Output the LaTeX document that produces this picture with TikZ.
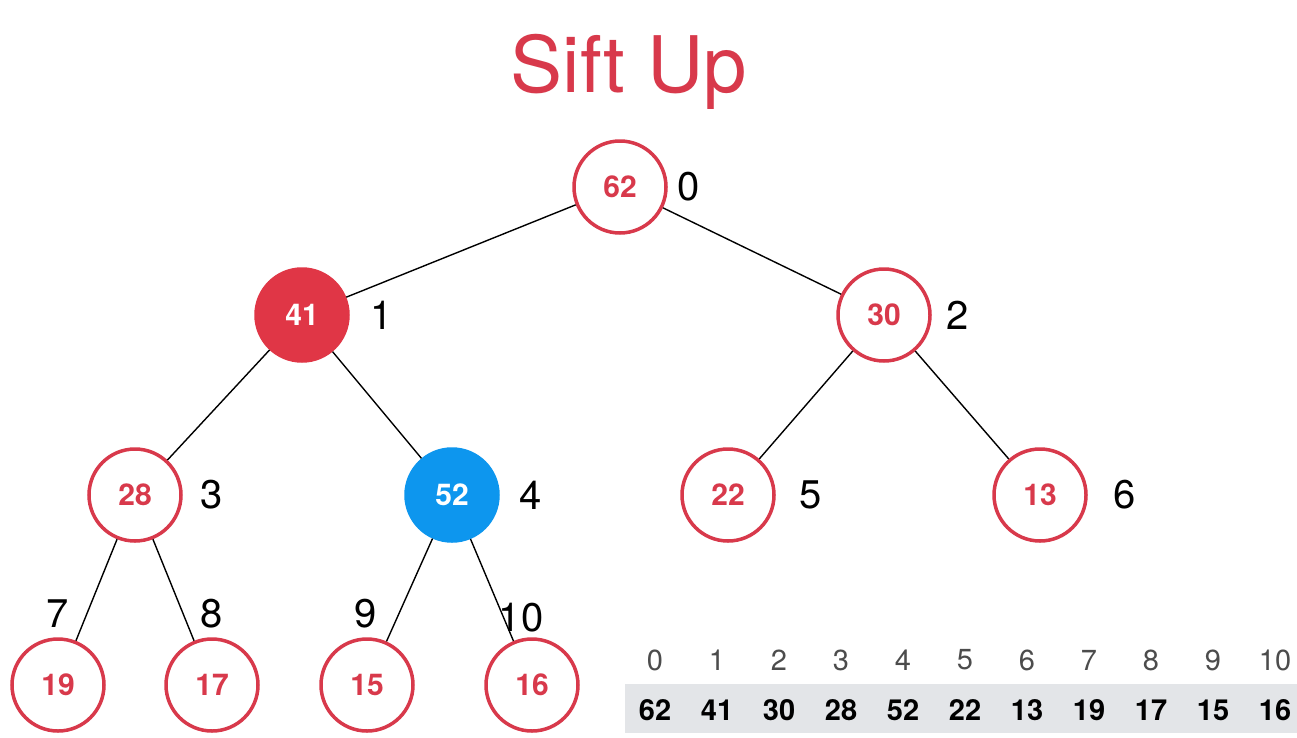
\documentclass[tikz,border=0pt]{standalone}
\usepackage{fontspec}
\setmainfont{TeX Gyre Heros}
\usepackage{xcolor}
\usetikzlibrary{positioning}

\definecolor{heapred}{HTML}{D8394B}
\definecolor{fillred}{HTML}{E03646}
\definecolor{heapblue}{HTML}{0D96EE}
\definecolor{rowgray}{HTML}{E3E5E8}

\tikzset{
  heapnode/.style={circle, draw=heapred, line width=3.5pt, fill=white,
    minimum size=92pt, inner sep=0pt, text=heapred,
    font=\fontsize{30}{31}\selectfont\bfseries},
  hotnode/.style={heapnode, fill=fillred, draw=fillred, text=white},
  movenode/.style={heapnode, fill=heapblue, draw=heapblue, text=white},
  idx/.style={font=\fontsize{40}{42}\selectfont},
  arrayidx/.style={font=\fontsize{29}{30}\selectfont, text=black!70},
  arrayval/.style={font=\fontsize{29}{30}\selectfont\bfseries}
}

\begin{document}
\begin{tikzpicture}[x=1pt, y=-1pt, line width=1.4pt]
            \useasboundingbox[fill=white] (0,0) rectangle (1297,737);
            \node[text=heapred, font=\fontsize{78}{82}\selectfont] (title) at (629,72) {Sift Up};
            % tree
            \node[heapnode] (n0) at (620,187) {62};
            \node[hotnode] (n1) at (302,315) {41};
            \node[heapnode] (n2) at (884,315) {30};
            \node[heapnode] (n3) at (135,495) {28};
            \node[movenode] (n4) at (452,495) {52};
            \node[heapnode] (n5) at (728,495) {22};
            \node[heapnode] (n6) at (1040,495) {13};
            \node[heapnode] (n7) at (58,685) {19};
            \node[heapnode] (n8) at (212,685) {17};
            \node[heapnode] (n9) at (367,685) {15};
            \node[heapnode] (n10) at (532,685) {16};
            \draw (n0) -- (n1);
            \draw (n0) -- (n2);
            \draw (n1) -- (n3);
            \draw (n1) -- (n4);
            \draw (n2) -- (n5);
            \draw (n2) -- (n6);
            \draw (n3) -- (n7);
            \draw (n3) -- (n8);
            \draw (n4) -- (n9);
            \draw (n4) -- (n10);
            % indices
            \node[idx] (i0) at (689,187) {0};
            \node[idx] (i1) at (382,315) {1};
            \node[idx] (i2) at (958,315) {2};
            \node[idx] (i3) at (212,495) {3};
            \node[idx] (i4) at (531,495) {4};
            \node[idx] (i5) at (811,495) {5};
            \node[idx] (i6) at (1125,495) {6};
            \node[idx] (i7) at (58,614) {7};
            \node[idx] (i8) at (212,614) {8};
            \node[idx] (i9) at (366,614) {9};
            \node[idx] (i10) at (521,618) {10};
            % array
            \fill[rowgray] (625,684) rectangle (1297,733);
            \foreach \k/\v in {0/62, 1/41, 2/30, 3/28, 4/52, 5/22, 6/13, 7/19, 8/17, 9/15, 10/16} {
              \node[arrayidx] (a\k) at (655+62*\k,660) {\k};
              \node[arrayval] (v\k) at (655+62*\k,710) {\v};
            }
        \end{tikzpicture}
\end{document}
